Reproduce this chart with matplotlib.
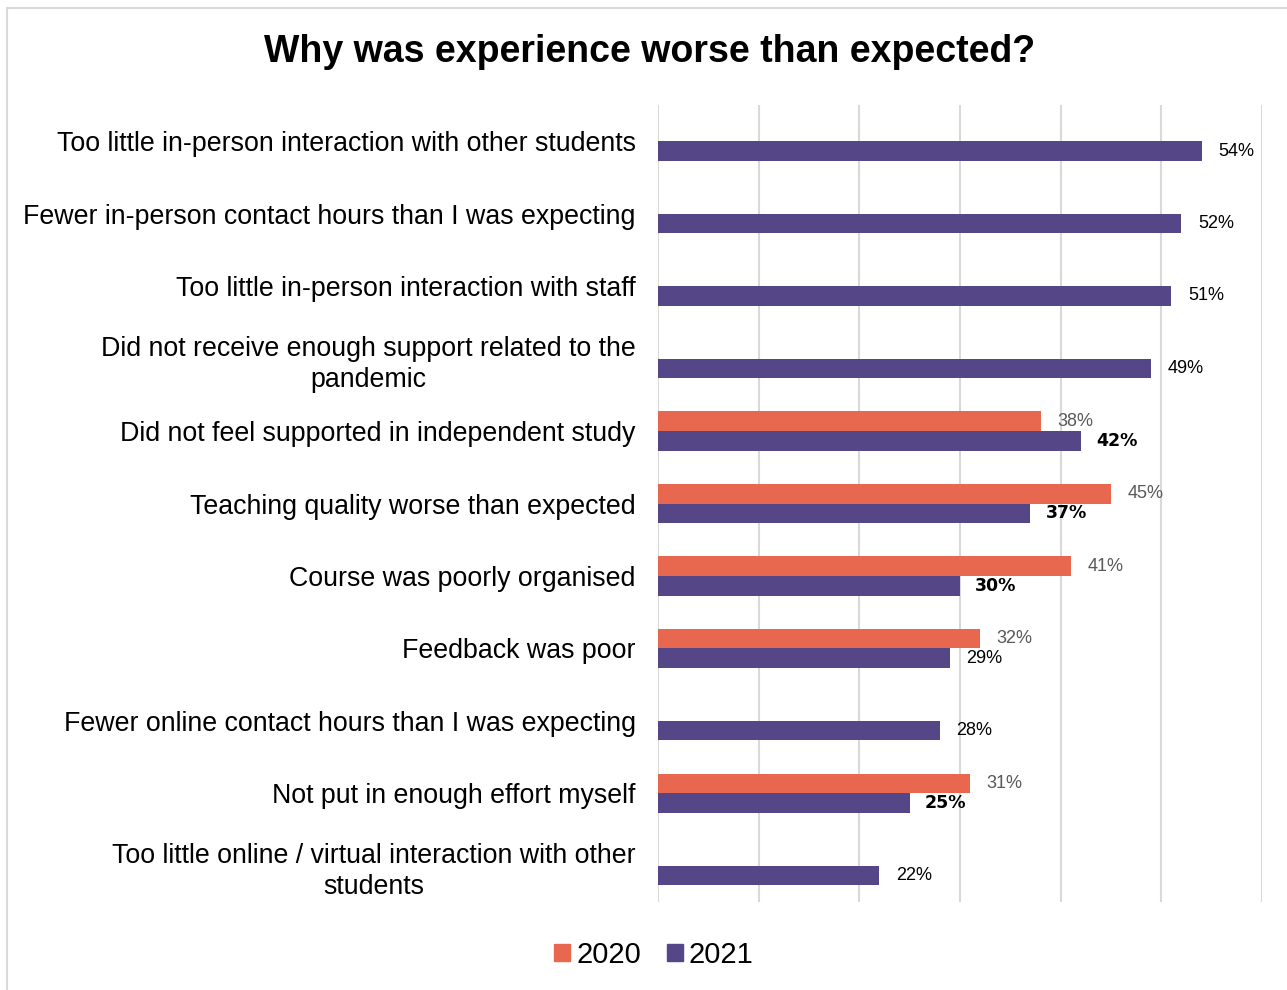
import matplotlib
matplotlib.use("Agg")
import matplotlib.pyplot as plt
from matplotlib.lines import Line2D
from matplotlib.patches import Patch

plt.rcParams['font.family'] = ['Liberation Sans', 'DejaVu Sans']

# survey answers, top to bottom
categories = [
    "Too little in-person interaction with other students",
    "Fewer in-person contact hours than I was expecting",
    "Too little in-person interaction with staff",
    "Did not receive enough support related to the\npandemic",
    "Did not feel supported in independent study",
    "Teaching quality worse than expected",
    "Course was poorly organised",
    "Feedback was poor",
    "Fewer online contact hours than I was expecting",
    "Not put in enough effort myself",
    "Too little online / virtual interaction with other\nstudents",
]
vals_2020 = [None, None, None, None, 38, 45, 41, 32, None, 31, None]
vals_2021 = [54, 52, 51, 49, 42, 37, 30, 29, 28, 25, 22]
# 2021 labels shown in bold where the change is significant
bold_2021 = [False, False, False, False, True, True, True, False, False, True, False]

c2020 = "#E8684F"
c2021 = "#554687"
grid_col = "#D9D9D9"

fig = plt.figure(figsize=(12.87, 9.9), dpi=100)
ax = fig.add_axes([658 / 1287, 1 - 902 / 990, 604 / 1287, 797 / 990])

h = 0.27
for i, (a, b) in enumerate(zip(vals_2020, vals_2021)):
    if a is not None:
        ax.barh(i - h / 2, a, height=h, color=c2020)
        ax.annotate(f"{a}%", (a, i - h / 2), xytext=(12, 0), textcoords="offset points",
                    va="center", ha="left", fontsize=13, color="#595959")
    ax.barh(i + h / 2, b, height=h, color=c2021)
    if bold_2021[i]:
        ax.annotate(f"{b}%", (b, i + h / 2), xytext=(11, 0), textcoords="offset points",
                    va="center", ha="left", fontsize=12.5, color="black",
                    family="DejaVu Sans", fontweight="bold")
    else:
        ax.annotate(f"{b}%", (b, i + h / 2), xytext=(12, 0), textcoords="offset points",
                    va="center", ha="left", fontsize=13, color="black")

ax.set_xlim(0, 60)
ax.set_ylim(len(categories) - 0.5, -0.5)
ax.set_xticks(range(0, 61, 10))
ax.set_xticklabels([])
ax.grid(axis="x", color=grid_col, linewidth=1.5)
ax.set_axisbelow(True)
ax.tick_params(length=0)
ax.set_yticks(range(len(categories)))
ax.set_yticklabels(categories, fontsize=19.3, ha="right", multialignment="center",
                   linespacing=1.25)
ax.tick_params(axis="y", pad=16)
for s in ax.spines.values():
    s.set_visible(False)

fig.text(650 / 1287, 1 - 52 / 990, "Why was experience worse than expected?",
         ha="center", va="center", fontsize=27, fontweight="bold")

handles = [Patch(color=c2020), Patch(color=c2021)]
fig.legend(handles, ["2020", "2021"], loc="center", bbox_to_anchor=(654 / 1287, 1 - 955 / 990),
           ncol=2, frameon=False, fontsize=21, handlelength=0.55, handleheight=0.55,
           handletextpad=0.2, columnspacing=0.9)

# thin frame along the top and left edges
fig.add_artist(Line2D([7 / 1287, 7 / 1287], [0, 1 - 8 / 990], transform=fig.transFigure,
                      color="#D9D9D9", linewidth=1.5))
fig.add_artist(Line2D([7 / 1287, 1], [1 - 8 / 990, 1 - 8 / 990], transform=fig.transFigure,
                      color="#D9D9D9", linewidth=1.5))

fig.savefig("out.png", dpi=100)
